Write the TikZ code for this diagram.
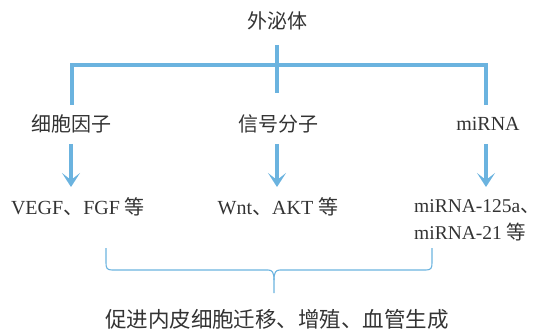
\documentclass[tikz,border=0pt]{standalone}
\usepackage{fontspec}
\setmainfont{Liberation Serif}
\newfontfamily\cjk{Noto Sans CJK SC}
\usetikzlibrary{arrows.meta}
\definecolor{lblue}{HTML}{6BB3DF}
\definecolor{txt}{HTML}{333333}
\tikzset{
  lbl/.style={text=txt, inner sep=0pt, font=\fontsize{20}{22}\selectfont},
  bar/.style={draw=lblue, line width=3.2pt},
  darrow/.style={draw=lblue, line width=3.4pt, -{Stealth[length=14pt,width=18pt,inset=7pt]}},
  brace/.style={draw=lblue, line width=1.1pt},
}
\begin{document}
\begin{tikzpicture}[x=1pt,y=-1pt]
\useasboundingbox (0,0) rectangle (539,329);
\node[lbl] (t) at (277,21) {\cjk 外泌体};
\coordinate (stubtop) at (277,45);
\coordinate (stubbot) at (277,93);
\coordinate (barL) at (72,65);
\coordinate (barR) at (486,65);
\coordinate (barLd) at (72,103);
\coordinate (barRd) at (486,103);
\draw[bar] (stubtop) -- (stubbot);
\draw[bar, line cap=rect] (barLd) -- (barL) -- (barR) -- (barRd);
\draw[bar] (barL) -- (barLd);
\draw[bar] (barR) -- (barRd);

\node[lbl] (a1) at (71,124) {\cjk 细胞因子};
\node[lbl] (a2) at (278,124) {\cjk 信号分子};
\node[lbl] (a3) at (488,124) {miRNA};

\node[lbl] (b1) at (78,207) {VEGF{\cjk 、}FGF {\cjk 等}};
\node[lbl] (b2) at (278,207) {Wnt{\cjk 、}AKT {\cjk 等}};
\node[lbl, anchor=west, font=\fontsize{19.5}{22}\selectfont] (b3) at (414,207) {miRNA-125a\makebox[0.45em][l]{\cjk 、}};
\node[lbl, anchor=west, font=\fontsize{19.5}{22}\selectfont] (b4) at (414,232) {miRNA-21 {\cjk 等}};

\coordinate (s1) at (71,144);
\coordinate (e1) at (71,187);
\coordinate (s2) at (277,144);
\coordinate (e2) at (277,187);
\coordinate (s3) at (486,144);
\coordinate (e3) at (486,187);
\draw[darrow] (s1) -- (e1);
\draw[darrow] (s2) -- (e2);
\draw[darrow] (s3) -- (e3);

\coordinate (brL) at (106,248);
\coordinate (brR) at (432,248);
\coordinate (brT) at (274,293);
\draw[brace] (brL) -- (106,263) .. controls (106,268) and (107,270) .. (112,270)
  -- (268,270) .. controls (272,270) and (274,272) .. (274,280) -- (brT);
\draw[brace] (brR) -- (432,263) .. controls (432,268) and (431,270) .. (426,270)
  -- (280,270) .. controls (276,270) and (274,272) .. (274,280);

\node[lbl, font=\fontsize{21.5}{23}\selectfont] (c) at (277,319) {\cjk 促进内皮细胞迁移、增殖、血管生成};
\end{tikzpicture}
\end{document}
